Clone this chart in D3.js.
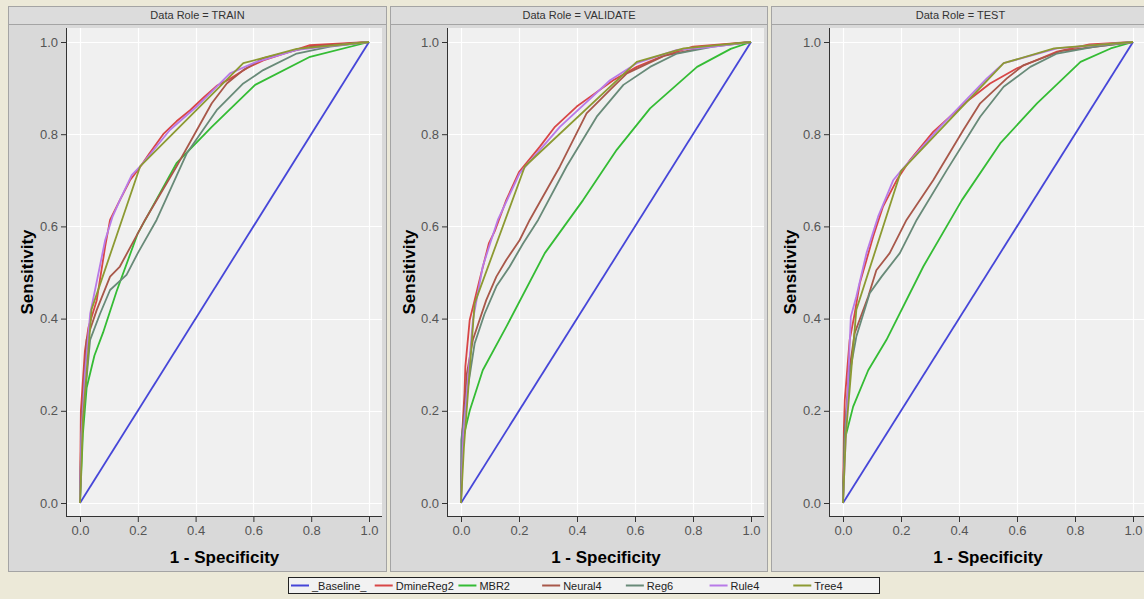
<!DOCTYPE html>
<html><head><meta charset="utf-8">
<script src="https://cdn.jsdelivr.net/npm/d3@7"></script>
<style>
html,body{margin:0;padding:0;background:#ece9d8;overflow:hidden;}
svg{display:block;font-family:"Liberation Sans",Arial,sans-serif;}
</style></head><body>
<svg id="chart" width="1144" height="599"></svg>
<script>
// ---------- data ----------
const roles = ["TRAIN", "VALIDATE", "TEST"];
const seriesNames = ["_Baseline_", "DmineReg2", "MBR2", "Neural4", "Reg6", "Rule4", "Tree4"];
const seriesColors = ["#4646d8", "#d84646", "#34bc34", "#a8584a", "#688a78", "#b87ae8", "#8c9a32"];
const xTicks = [0, 0.2, 0.4, 0.6, 0.8, 1.0];
const yTicks = [0, 0.2, 0.4, 0.6, 0.8, 1.0];

const baseline = [[0,0],[1,1]];

const trainDmine = [[0,0],[0.003,0.2],[0.017,0.33],[0.029,0.38],[0.058,0.44],[0.087,0.556],[0.104,0.614],[0.138,0.657],[0.173,0.70],[0.205,0.726],[0.24,0.758],[0.265,0.78],[0.288,0.80],[0.334,0.828],[0.381,0.852],[0.427,0.879],[0.473,0.905],[0.519,0.92],[0.577,0.943],[0.634,0.96],[0.796,0.993],[1,1]];
const trainMBR = [[0,0],[0.01,0.15],[0.023,0.25],[0.05,0.32],[0.08,0.37],[0.127,0.46],[0.2,0.585],[0.334,0.737],[0.456,0.816],[0.606,0.907],[0.796,0.968],[1,1]];
const trainNeural = [[0,0],[0.005,0.18],[0.023,0.354],[0.058,0.419],[0.104,0.491],[0.138,0.513],[0.2,0.585],[0.225,0.614],[0.334,0.73],[0.456,0.867],[0.508,0.91],[0.565,0.939],[0.634,0.965],[0.8,0.99],[1,1]];
const trainReg = [[0,0],[0.005,0.15],[0.035,0.354],[0.069,0.41],[0.104,0.462],[0.161,0.495],[0.2,0.542],[0.265,0.614],[0.369,0.758],[0.473,0.852],[0.565,0.91],[0.634,0.939],[0.75,0.975],[0.865,0.99],[1,1]];
const trainRule = [[0,0],[0.005,0.15],[0.017,0.28],[0.035,0.41],[0.052,0.462],[0.087,0.57],[0.112,0.62],[0.138,0.657],[0.179,0.711],[0.208,0.73],[0.311,0.809],[0.404,0.86],[0.519,0.932],[0.611,0.957],[0.75,0.983],[0.865,0.991],[1,1]];
const trainTree = [[0,0],[0.01,0.18],[0.04,0.42],[0.208,0.73],[0.565,0.954],[0.75,0.985],[1,1]];

const valDmine = [[0,0],[0.003,0.14],[0.012,0.238],[0.015,0.296],[0.03,0.397],[0.047,0.44],[0.064,0.484],[0.096,0.563],[0.116,0.589],[0.156,0.657],[0.2,0.718],[0.272,0.773],[0.324,0.816],[0.399,0.86],[0.445,0.881],[0.525,0.917],[0.606,0.946],[0.698,0.97],[0.8,0.99],[1,1]];
const valMBR = [[0,0],[0.006,0.137],[0.03,0.2],[0.075,0.288],[0.156,0.382],[0.289,0.542],[0.421,0.657],[0.537,0.766],[0.652,0.856],[0.814,0.946],[0.93,0.985],[1,1]];
const valNeural = [[0,0],[0.005,0.15],[0.02,0.28],[0.041,0.354],[0.087,0.44],[0.122,0.491],[0.156,0.527],[0.202,0.57],[0.237,0.614],[0.341,0.73],[0.433,0.845],[0.514,0.896],[0.572,0.932],[0.7,0.97],[0.85,0.99],[1,1]];
const valReg = [[0,0],[0.001,0.137],[0.024,0.252],[0.047,0.346],[0.081,0.41],[0.122,0.47],[0.168,0.513],[0.214,0.563],[0.266,0.614],[0.364,0.73],[0.468,0.838],[0.56,0.907],[0.652,0.946],[0.745,0.975],[0.87,0.99],[1,1]];
const valRule = [[0,0],[0.008,0.15],[0.041,0.397],[0.075,0.513],[0.104,0.57],[0.127,0.614],[0.202,0.715],[0.225,0.732],[0.341,0.816],[0.514,0.917],[0.606,0.954],[0.745,0.983],[0.86,0.989],[1,1]];
const valTree = [[0,0],[0.01,0.12],[0.047,0.433],[0.22,0.73],[0.606,0.957],[0.768,0.986],[1,1]];

const testDmine = [[0,0],[0.003,0.16],[0.006,0.223],[0.023,0.354],[0.04,0.41],[0.058,0.477],[0.081,0.527],[0.104,0.578],[0.138,0.643],[0.185,0.70],[0.231,0.744],[0.311,0.805],[0.427,0.871],[0.507,0.91],[0.6,0.943],[0.738,0.979],[0.85,0.995],[1,1]];
const testMBR = [[0,0],[0.006,0.137],[0.035,0.209],[0.087,0.288],[0.15,0.354],[0.277,0.513],[0.41,0.657],[0.542,0.78],[0.669,0.867],[0.819,0.957],[0.923,0.986],[1,1]];
const testNeural = [[0,0],[0.006,0.15],[0.02,0.28],[0.04,0.368],[0.087,0.448],[0.115,0.505],[0.161,0.542],[0.219,0.614],[0.311,0.70],[0.415,0.809],[0.473,0.867],[0.565,0.921],[0.623,0.95],[0.75,0.98],[1,1]];
const testReg = [[0,0],[0.006,0.15],[0.023,0.281],[0.046,0.361],[0.092,0.455],[0.133,0.491],[0.196,0.542],[0.254,0.614],[0.358,0.722],[0.473,0.838],[0.554,0.903],[0.646,0.946],[0.738,0.975],[0.87,0.99],[1,1]];
const testRule = [[0,0],[0.01,0.15],[0.027,0.404],[0.046,0.448],[0.081,0.542],[0.121,0.621],[0.173,0.70],[0.202,0.722],[0.335,0.816],[0.496,0.921],[0.554,0.954],[0.738,0.986],[1,1]];
const testTree = [[0,0],[0.01,0.15],[0.046,0.419],[0.2,0.72],[0.554,0.954],[0.728,0.986],[1,1]];

const roleSeries = [
  [baseline, trainDmine, trainMBR, trainNeural, trainReg, trainRule, trainTree],
  [baseline, valDmine, valMBR, valNeural, valReg, valRule, valTree],
  [baseline, testDmine, testMBR, testNeural, testReg, testRule, testTree]
];

// ---------- layout ----------
const svg = d3.select("#chart");
const panels = [
  {x0: 8, x1: 387, axisX: 67, plotR: 382},
  {x0: 390, x1: 768, axisX: 448, plotR: 764},
  {x0: 771, x1: 1150, axisX: 830, plotR: 1146}
];
const panelTop = 6, panelBottom = 572, headerBottom = 24;
const plotTop = 28, plotBottom = 516;

const line = d3.line();

panels.forEach((p, i) => {
  const g = svg.append("g");
  g.append("rect").attr("x", p.x0 + 0.5).attr("y", panelTop + 0.5)
    .attr("width", p.x1 - p.x0 - 1).attr("height", panelBottom - panelTop - 1)
    .attr("fill", "#d9d9d9").attr("stroke", "#a4a4a4");
  g.append("rect").attr("x", p.x0 + 1).attr("y", panelTop + 1)
    .attr("width", p.x1 - p.x0 - 2).attr("height", headerBottom - panelTop - 1)
    .attr("fill", "#dcdcdc");
  g.append("line").attr("x1", p.x0).attr("x2", p.x1)
    .attr("y1", headerBottom + 0.5).attr("y2", headerBottom + 0.5)
    .attr("stroke", "#a4a4a4");
  g.append("text").attr("x", (p.x0 + p.x1) / 2).attr("y", 19)
    .attr("text-anchor", "middle").attr("font-size", 11).attr("fill", "#333")
    .text("Data Role = " + roles[i]);

  const x = d3.scaleLinear().domain([0, 1]).range([p.axisX + 13, p.plotR - 13]);
  const y = d3.scaleLinear().domain([0, 1]).range([503, 42]);

  g.append("rect").attr("x", p.axisX).attr("y", plotTop)
    .attr("width", p.plotR - p.axisX).attr("height", plotBottom - plotTop)
    .attr("fill", "#f0f0f0");

  // grid
  g.append("g").selectAll("line").data(xTicks).join("line")
    .attr("x1", d => Math.round(x(d)) + 0.5).attr("x2", d => Math.round(x(d)) + 0.5)
    .attr("y1", plotTop).attr("y2", plotBottom)
    .attr("stroke", "#ffffff").attr("stroke-width", 1.2);
  g.append("g").selectAll("line").data(yTicks).join("line")
    .attr("y1", d => Math.round(y(d)) + 0.5).attr("y2", d => Math.round(y(d)) + 0.5)
    .attr("x1", p.axisX).attr("x2", p.plotR)
    .attr("stroke", "#ffffff").attr("stroke-width", 1.2);

  // axes
  const xAxis = d3.axisBottom(x).tickValues(xTicks).tickFormat(d3.format(".1f")).tickSize(6).tickSizeOuter(0);
  const gx = g.append("g").attr("transform", `translate(0,${plotBottom})`).call(xAxis);
  gx.select(".domain").remove();
  gx.append("line").attr("x1", p.axisX).attr("x2", p.plotR).attr("y1", 0.5).attr("y2", 0.5).attr("stroke", "#333");
  gx.selectAll(".tick line").attr("stroke", "#333");
  gx.selectAll(".tick text").attr("font-size", 13).attr("fill", "#555")
    .attr("font-family", "'Liberation Sans',Arial,sans-serif").attr("dy", "0.95em").attr("y", 7);

  const yAxis = d3.axisLeft(y).tickValues(yTicks).tickFormat(d3.format(".1f")).tickSize(6).tickSizeOuter(0);
  const gy = g.append("g").attr("transform", `translate(${p.axisX},0)`).call(yAxis);
  gy.select(".domain").remove();
  gy.append("line").attr("x1", -0.5).attr("x2", -0.5).attr("y1", plotTop).attr("y2", plotBottom + 1).attr("stroke", "#333");
  gy.selectAll(".tick line").attr("stroke", "#333");
  gy.selectAll(".tick text").attr("font-size", 13).attr("fill", "#555")
    .attr("font-family", "'Liberation Sans',Arial,sans-serif").attr("x", -9);

  // titles
  g.append("text").attr("x", (p.axisX + p.plotR) / 2).attr("y", 563)
    .attr("text-anchor", "middle").attr("font-size", 17).attr("font-weight", "bold").attr("fill", "#000")
    .text("1 - Specificity");
  g.append("text").attr("transform", `translate(${p.x0 + 25},272) rotate(-90)`)
    .attr("text-anchor", "middle").attr("font-size", 17).attr("font-weight", "bold").attr("fill", "#000")
    .text("Sensitivity");

  // curves
  const clipId = "clip" + i;
  g.append("clipPath").attr("id", clipId).append("rect")
    .attr("x", p.axisX).attr("y", plotTop).attr("width", p.plotR - p.axisX).attr("height", plotBottom - plotTop);
  const cg = g.append("g").attr("clip-path", `url(#${clipId})`);
  roleSeries[i].forEach((s, k) => {
    cg.append("path")
      .attr("d", line(s.map(d => [x(d[0]), y(d[1])])))
      .attr("fill", "none").attr("stroke", seriesColors[k])
      .attr("stroke-width", 1.8).attr("stroke-linejoin", "round");
  });
});

// legend
const lg = svg.append("g");
lg.append("rect").attr("x", 288.5).attr("y", 577.5).attr("width", 591).attr("height", 16)
  .attr("fill", "#f2f2f2").attr("stroke", "#222");
const legX = d3.scaleLinear().domain([0, seriesNames.length]).range([291, 877]);
seriesNames.forEach((n, k) => {
  const lx = legX(k);
  lg.append("line").attr("x1", lx).attr("x2", lx + 18).attr("y1", 585.5).attr("y2", 585.5)
    .attr("stroke", seriesColors[k]).attr("stroke-width", 2);
  lg.append("text").attr("x", lx + 21).attr("y", 590).attr("font-size", 11).attr("fill", "#222").text(n);
});
</script>
</body></html>
